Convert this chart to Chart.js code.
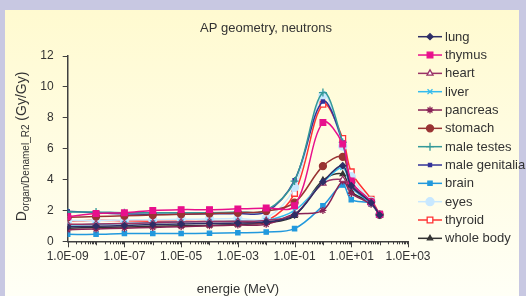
<!DOCTYPE html>
<html><head><meta charset="utf-8">
<script src="https://cdn.jsdelivr.net/npm/chart.js@4"></script>
<style>html,body{margin:0;padding:0;background:#c8c8e2;}canvas{display:block}</style>
</head><body>
<canvas id="c" width="526" height="296"></canvas>
<script>
// ---- data ----
const energies = [1e-9,1e-8,1e-7,1e-6,1e-5,1e-4,1e-3,1e-2,1e-1,1,5,10,50,100];
const lung          = [0.95,0.98,1.02,1.08,1.12,1.15,1.18,1.25,1.70,3.85,4.90,3.60,2.50,1.70];
const thymus        = [1.60,1.80,1.85,2.00,2.05,2.05,2.10,2.15,2.30,7.70,6.30,3.90,2.55,1.75];
const heart         = [1.10,1.12,1.15,1.20,1.25,1.28,1.30,1.35,1.75,3.75,4.00,3.50,2.50,1.70];
const liver         = [1.05,1.10,1.15,1.20,1.25,1.28,1.30,1.35,2.00,3.80,4.78,3.50,2.45,1.70];
const pancreas      = [0.75,0.80,0.85,0.90,0.95,1.00,1.05,1.10,1.75,2.00,3.90,3.10,2.40,1.70];
const stomach       = [1.55,1.60,1.65,1.70,1.75,1.80,1.85,1.95,2.50,4.87,5.47,3.85,2.55,1.72];
const maleTestes    = [1.90,1.90,1.85,1.85,1.85,1.85,1.90,2.00,3.90,9.63,6.40,3.80,2.55,1.72];
const maleGenitalia = [1.95,1.85,1.78,1.75,1.75,1.78,1.80,1.90,3.95,9.05,6.40,3.75,2.50,1.70];
const brain         = [0.45,0.45,0.50,0.50,0.50,0.52,0.55,0.60,0.82,2.30,3.64,2.70,2.45,1.70];
const eyes          = [1.35,1.35,1.38,1.40,1.42,1.45,1.48,1.50,3.50,9.46,6.16,4.18,2.60,1.72];
const thyroid       = [1.30,1.37,1.33,1.30,1.30,1.28,1.28,1.30,3.10,8.87,6.66,4.50,2.73,1.75];
const wholeBody     = [0.85,0.90,0.93,0.97,1.00,1.03,1.08,1.20,1.65,3.96,4.35,3.20,2.50,1.70];

const seriesNames = ['lung','thymus','heart','liver','pancreas','stomach','male testes','male genitalia','brain','eyes','thyroid','whole body'];
const seriesValues = [lung,thymus,heart,liver,pancreas,stomach,maleTestes,maleGenitalia,brain,eyes,thyroid,wholeBody];
const yTicks = [0,2,4,6,8,10,12];
const xLabelExponents = [-9,-7,-5,-3,-1,1,3];
const titleText = 'AP geometry, neutrons';
const xTitle = 'energie (MeV)';

// ---- styles ----
const styles = [
  {c:'#2e2e66', ps:'rectRot', r:3, fill:true},
  {c:'#e8108c', ps:'rect', r:4, fill:true},
  {c:'#993366', ps:'triangle', r:3.5, fill:false},
  {c:'#33bbee', ps:'crossRot', r:3.5, fill:false},
  {c:'#882255', ps:'star', r:3.5, fill:false},
  {c:'#993333', ps:'circle', r:3.5, fill:true},
  {c:'#339999', ps:'cross', r:4, fill:false},
  {c:'#333399', ps:'rect', r:2.2, fill:true},
  {c:'#2299dd', ps:'rect', r:3, fill:true},
  {c:'#c8e8ff', ps:'circle', r:4, fill:true},
  {c:'#ff3333', ps:'rect', r:4, fill:false},
  {c:'#333333', ps:'triangle', r:3, fill:true}
];

const datasets = seriesNames.map((n,i)=>({
  label:n,
  data: energies.map((e,j)=>({x:e,y:seriesValues[i][j]})),
  borderColor: styles[i].c,
  backgroundColor: styles[i].fill ? styles[i].c : '#ffffff',
  pointStyle: styles[i].ps,
  pointRadius: styles[i].r,
  pointBorderWidth: 1.3,
  pointBorderColor: styles[i].c,
  borderWidth: 1.5,
  tension: 0.35,
  fill:false
}));

const F = 'Liberation Sans, Arial, sans-serif';

function fmtE(v){
  const e = Math.round(Math.log10(v));
  const s = e<0?'-':'+';
  const a = Math.abs(e);
  return '1.0E'+s+(a<10?'0':'')+a;
}

const deco = {
  id:'deco',
  beforeDraw(chart){
    const c = chart.ctx;
    c.save();
    c.fillStyle = '#c8c8e2';
    c.fillRect(0,0,526,296);
    const g = c.createLinearGradient(0,10,0,296);
    g.addColorStop(0,'#fffad0');
    g.addColorStop(1,'#fffff6');
    c.fillStyle = g;
    c.fillRect(5,10,514,286);
    c.restore();
  },
  afterDraw(chart){
    const c = chart.ctx;
    const xs = chart.scales.x, ys = chart.scales.y;
    c.save();
    // x ticks
    c.strokeStyle = '#404040';
    c.lineWidth = 1;
    const yb = ys.getPixelForValue(0);
    for(let k=-9;k<=3;k++){
      for(let m=1;m<=9;m++){
        if(k===3 && m>1) break;
        const v = m*Math.pow(10,k);
        const px = Math.round(xs.getPixelForValue(v))+0.5;
        let len = 3;
        if(m===1) len = xLabelExponents.includes(k)?6:4;
        c.beginPath(); c.moveTo(px,yb); c.lineTo(px,yb+len); c.stroke();
      }
    }
    // title
    c.fillStyle = '#333';
    c.font = '13px '+F;
    c.textAlign = 'center'; c.textBaseline='middle';
    c.fillText(titleText, 266, 28);
    c.fillText(xTitle, 238, 289);
    // y title
    c.translate(22,146.5);
    c.rotate(-Math.PI/2);
    c.textAlign='left'; c.textBaseline='alphabetic';
    const big='14px '+F, small='10px '+F;
    c.font=big; const wD=c.measureText('D').width; const wP=c.measureText(' (Gy/Gy)').width;
    c.font=small; const wS=c.measureText('organ/Denamel_R2').width;
    let x0 = -(wD+wS+wP)/2;
    c.font=big; c.fillText('D',x0,4);
    c.font=small; c.fillText('organ/Denamel_R2',x0+wD,6.5);
    c.font=big; c.fillText(' (Gy/Gy)',x0+wD+wS,4);
    c.restore();
    // legend
    c.save();
    c.font='13px '+F;
    c.textBaseline='middle'; c.textAlign='left';
    seriesNames.forEach((n,i)=>{
      const y = 36.7 + i*18.33;
      const st = styles[i];
      c.strokeStyle = st.c; c.lineWidth=1.5;
      c.beginPath(); c.moveTo(418,y); c.lineTo(442,y); c.stroke();
      c.fillStyle = st.fill?st.c:'#ffffff';
      c.lineWidth=1.3;
      Chart.helpers.drawPoint(c,{pointStyle:st.ps,radius:st.r,rotation:0,borderWidth:1.3},430,y);
      c.fillStyle='#333';
      c.fillText(n,445,y+0.5);
    });
    c.restore();
  }
};

new Chart(document.getElementById('c'),{
  type:'line',
  data:{datasets},
  plugins:[deco],
  options:{
    responsive:false, animation:false, devicePixelRatio:1,
    layout:{padding:{top:56,right:118,left:0,bottom:0}},
    plugins:{legend:{display:false},tooltip:{enabled:false}},
    scales:{
      x:{
        type:'logarithmic', min:1e-9, max:1e3,
        afterBuildTicks(s){ s.ticks = xLabelExponents.map(k=>({value:Math.pow(10,k)})); },
        afterFit(s){ s.height = 296-241.3; },
        grid:{display:true, drawOnChartArea:false, drawTicks:true, tickLength:6, color:'rgba(0,0,0,0)'},
        border:{display:true,color:'#404040',width:1.5},
        ticks:{autoSkip:false,maxRotation:0,minRotation:0,padding:2,color:'#333',font:{family:F,size:12},
          callback:(v)=>fmtE(v)}
      },
      y:{
        type:'linear', min:0, max:12,
        afterBuildTicks(s){ s.ticks = yTicks.map(v=>({value:v})); },
        afterFit(s){ s.width = 67.7; },
        grid:{display:true, drawOnChartArea:false, drawTicks:true, tickLength:5, color:'#404040', lineWidth:1},
        border:{display:true,color:'#404040',width:1.5},
        ticks:{padding:9,color:'#333',font:{family:F,size:12}}
      }
    }
  }
});
</script>
</body></html>
